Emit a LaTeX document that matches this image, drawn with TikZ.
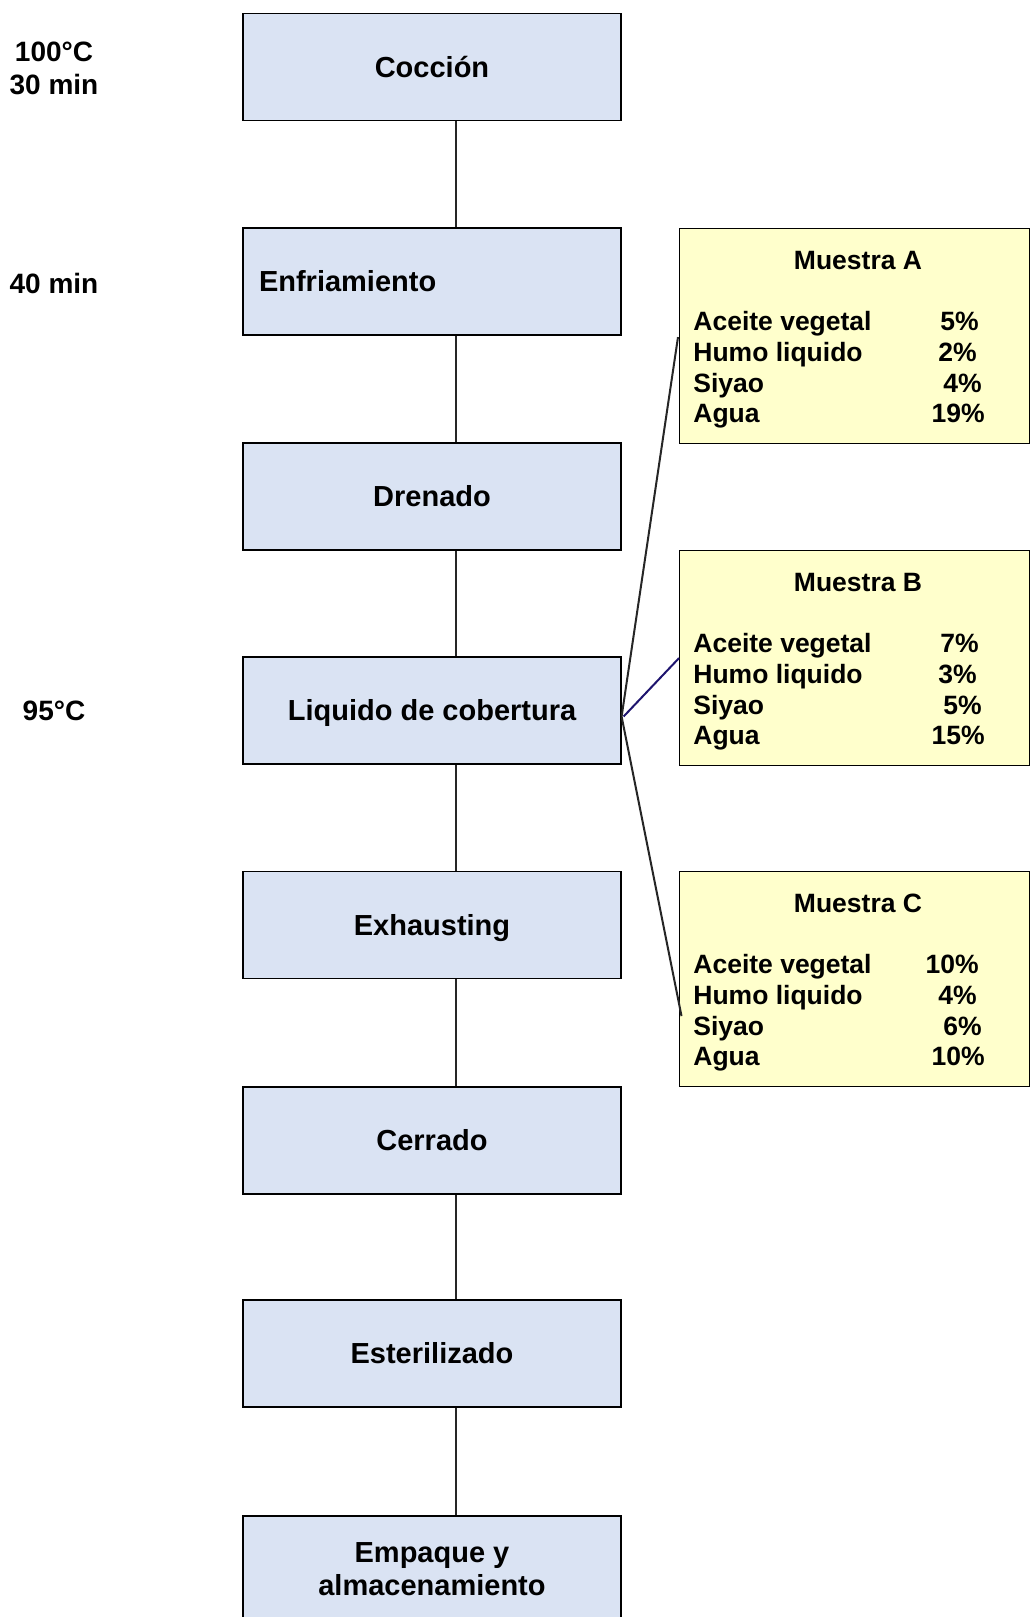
\documentclass[tikz,border=0pt]{standalone}
\usepackage{fontspec}
\setmainfont{Liberation Sans}
\usetikzlibrary{calc}

\definecolor{stepblue}{RGB}{218,227,243}
\definecolor{sampleyellow}{RGB}{255,255,204}
\definecolor{linknavy}{RGB}{30,20,110}

\tikzset{
  stepbox/.style={draw=black, line width=0.6pt, fill=stepblue,
    minimum width=189pt, minimum height=53.5pt, inner sep=0pt,
    font=\fontsize{14.5}{16.5}\selectfont\bfseries,
    text height=10.4pt, text depth=0pt},
  samplebox/.style={draw=black, line width=0.6pt, fill=sampleyellow,
    minimum width=175pt, minimum height=107.5pt, inner sep=0pt},
  sampletext/.style={font=\fontsize{13.25}{15}\selectfont\bfseries, inner sep=0pt},
  notetext/.style={font=\fontsize{14}{16.5}\selectfont\bfseries, inner sep=0pt},
  flowline/.style={line width=1.1pt, black!85},
  feedline/.style={line width=1pt, black!85}
}

\begin{document}
\begin{tikzpicture}[x=0.5pt,y=-0.5pt]
  \useasboundingbox (0,0) rectangle (1030,1617);

  % Process steps
  \node[stepbox] (coccion) at (432,67) {Cocción};
  \node[stepbox, text width=173pt, inner xsep=8pt, align=left] (enfriamiento) at (432,281.5) {Enfriamiento};
  \node[stepbox] (drenado) at (432,496.5) {Drenado};
  \node[stepbox] (liquido) at (432,710.5) {Liquido de cobertura};
  \node[stepbox] (exhausting) at (432,925) {Exhausting};
  \node[stepbox] (cerrado) at (432,1140.5) {Cerrado};
  \node[stepbox] (esterilizado) at (432,1353.5) {Esterilizado};
  \node[stepbox, text height={}, text depth={}, align=center] (empaque) at (432,1569.5) {Empaque y\\almacenamiento};

  % Conditions on the left
  \node[notetext, anchor=base] (temp1) at (54,61.5) {100°C};
  \node[notetext, anchor=base] (time1) at (54,94.5) {30 min};
  \node[notetext, anchor=base] (time2) at (54,293.5) {40 min};
  \node[notetext, anchor=base] (temp2) at (54,720) {95°C};

  % Vertical flow line
  \coordinate (spine) at (456,0);
  \foreach \a/\b in {coccion/enfriamiento, enfriamiento/drenado, drenado/liquido,
      liquido/exhausting, exhausting/cerrado, cerrado/esterilizado, esterilizado/empaque}
    \draw[flowline] (\a.south -| spine) -- (\b.north -| spine);

  % Samples
  \foreach \s/\ytop/\pa/\pb/\pc/\pd in {A/228/5/2/4/19, B/550/7/3/5/15, C/871/10/4/6/10}{
    \node[samplebox, anchor=north west] (m\s) at (679,\ytop) {};
    \node[sampletext, anchor=base] (m\s-title) at (858,{\ytop+41}) {Muestra \s};
    \node[sampletext, anchor=base west] (m\s-n1) at (693,{\ytop+102.5}) {Aceite vegetal};
    \node[sampletext, anchor=base west] (m\s-n2) at (693,{\ytop+133.5}) {Humo liquido};
    \node[sampletext, anchor=base west] (m\s-n3) at (693,{\ytop+164}) {Siyao};
    \node[sampletext, anchor=base west] (m\s-n4) at (693,{\ytop+194.5}) {Agua};
    \node[sampletext, anchor=base east] (m\s-v1) at (979,{\ytop+102.5}) {\pa\%};
    \node[sampletext, anchor=base east] (m\s-v2) at (977,{\ytop+133.5}) {\pb\%};
    \node[sampletext, anchor=base east] (m\s-v3) at (982,{\ytop+164}) {\pc\%};
    \node[sampletext, anchor=base east] (m\s-v4) at (985,{\ytop+194.5}) {\pd\%};
  }

  % Links from the covering liquid to the samples
  \coordinate (split) at ($(liquido.east)+(0,6)$);
  \coordinate (endA) at ($(mA.west)+(-1,1)$);
  \coordinate (endC) at ($(mC.west)+(2.5,37)$);
  \draw[feedline] (split) -- (endA);
  \draw[feedline, linknavy] ($(split)+(2,0)$) -- (mB.west);
  \draw[feedline] (split) -- (endC);
\end{tikzpicture}
\end{document}
